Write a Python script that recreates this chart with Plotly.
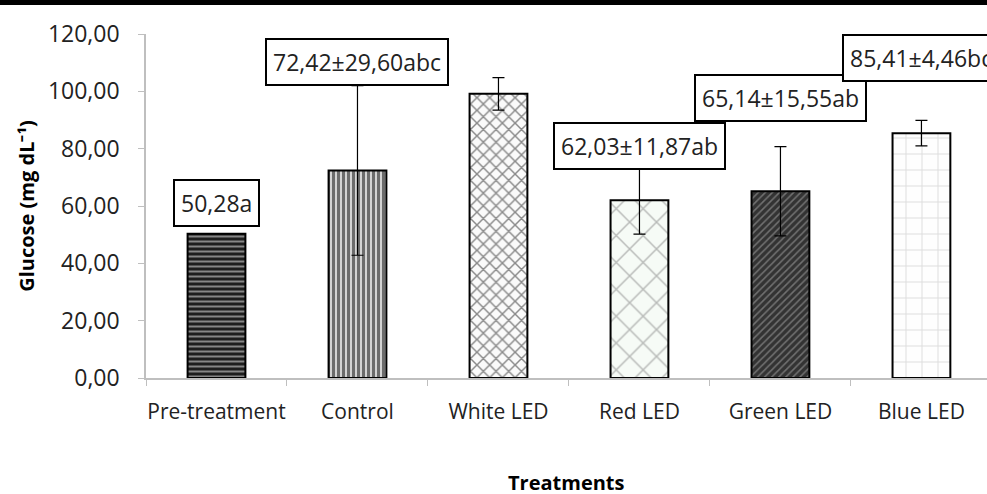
import plotly.graph_objects as go

categories = ["Pre-treatment", "Control", "White LED", "Red LED", "Green LED", "Blue LED"]
means = [50.28, 72.42, 99.13, 62.03, 65.14, 85.41]
sds = [0.0, 29.60, 5.68, 11.87, 15.55, 4.46]
letters = ["a", "abc", "c", "ab", "ab", "bc"]
label_y = [61.0, 110.4, 123.1, 81.1, 97.8, 111.8]

pat_shapes = ["-", "|", "x", "x", "/", "+"]
pat_fg = ["#f0f0f0", "#000000", "#1a1a1a", "#7a7a7a", "#b0b0b0", "#bdbdbd"]
pat_bg = ["#1e1e1e", "#d8d8d8", "#fafafa", "#f6fbf6", "#333333", "#fefefe"]
pat_size = [5, 5, 9, 19, 5, 16]
pat_sol = [0.4, 0.62, 0.3, 0.15, 0.3, 0.12]

FONT = "Open Sans"

fig = go.Figure()
for i, c in enumerate(categories):
    fig.add_trace(go.Bar(
        x=[c], y=[means[i]], width=0.41,
        marker=dict(
            color=pat_bg[i],
            line=dict(color="black", width=2),
            pattern=dict(shape=pat_shapes[i], fgcolor=pat_fg[i],
                         size=pat_size[i], solidity=pat_sol[i],
                         fillmode="overlay"),
        ),
        error_y=dict(type="data", array=[sds[i]], visible=sds[i] > 0,
                     color="black", thickness=1.2, width=6),
        showlegend=False,
    ))

def fmt(v):
    return f"{v:.2f}".replace(".", ",")

for i, c in enumerate(categories):
    if sds[i] > 0:
        txt = f"{fmt(means[i])}±{fmt(sds[i])}{letters[i]}"
    else:
        txt = f"{fmt(means[i])}{letters[i]}"
    fig.add_annotation(x=c, y=label_y[i], xref="x", yref="y", text=txt,
                       showarrow=False, bgcolor="white", bordercolor="black",
                       borderwidth=2, borderpad=6,
                       font=dict(family=FONT, size=23, color="#222222"))

# x-axis title placed as paper annotation
fig.add_annotation(x=0.5, y=-0.305, xref="paper", yref="paper",
                   xanchor="center", yanchor="middle", showarrow=False,
                   text="<b>Treatments</b>",
                   font=dict(family=FONT, size=20, color="#000000"))

fig.add_shape(type="rect", xref="paper", yref="paper",
              x0=-0.2, x1=1.05, y0=1.0843, y1=1.11,
              fillcolor="black", line=dict(width=0), layer="above")

fig.update_layout(
    width=987, height=494,
    margin=dict(l=146, r=0, t=34, b=116, autoexpand=False),
    paper_bgcolor="white", plot_bgcolor="white",
    font=dict(family=FONT, size=22, color="#222222"),
    barmode="overlay",
    separators=",.",
)
fig.update_xaxes(
    range=[-0.5, 5.465], showgrid=False, showline=True, linecolor="#bfbfbf",
    linewidth=1.5, ticks="outside", tickson="boundaries", ticklen=6,
    tickcolor="#bfbfbf", ticklabelstandoff=14, tickangle=0, automargin=False,
    tickfont=dict(family=FONT, size=21, color="#222222"),
)
fig.update_yaxes(
    range=[0, 120], dtick=20, tickformat=".2f",
    showgrid=False, zeroline=False, showline=True, linecolor="#bfbfbf",
    linewidth=1.5, ticks="outside", ticklen=6, tickcolor="#bfbfbf",
    ticklabelstandoff=14, automargin=False,
    tickfont=dict(family=FONT, size=23, color="#222222"),
    title=dict(text="<b>Glucose (mg dL⁻¹)</b>", standoff=8,
               font=dict(family=FONT, size=20, color="#000000")),
)

fig.write_html("out.html", config={"displayModeBar": False},
               post_script="document.body.style.margin='0';document.body.style.overflow='hidden';")
